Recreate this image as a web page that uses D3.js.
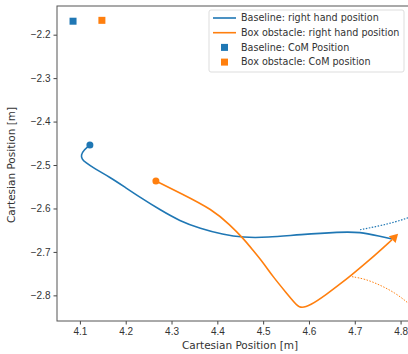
<!DOCTYPE html>
<html>
<head>
<meta charset="utf-8">
<script src="https://cdn.jsdelivr.net/npm/d3@7"></script>
<style>
  body { margin: 0; background: #fff; }
  svg { display: block; font-family: "DejaVu Sans", sans-serif; }
  .tick text { font-size: 10px; fill: #333; }
</style>
</head>
<body>
<div id="chart"></div>
<script>
// right hand trajectories [x, y]
const baselineHand = [
  [4.1218, -2.454], [4.1087, -2.4655], [4.1022, -2.477], [4.1044, -2.486],
  [4.1109, -2.493], [4.1328, -2.509], [4.1655, -2.528], [4.1983, -2.551],
  [4.2310, -2.574], [4.2747, -2.603], [4.3183, -2.629], [4.3620, -2.646],
  [4.4122, -2.660], [4.4559, -2.667], [4.5083, -2.667], [4.5803, -2.660],
  [4.6677, -2.654], [4.7114, -2.654], [4.7550, -2.664], [4.7812, -2.670]
]
const boxHand = [
  [4.2659, -2.537], [4.3183, -2.564], [4.3904, -2.603], [4.4275, -2.638],
  [4.4559, -2.668], [4.4777, -2.696], [4.4996, -2.724], [4.5214, -2.757],
  [4.5520, -2.796], [4.5694, -2.818], [4.5803, -2.830], [4.6022, -2.824],
  [4.6393, -2.797], [4.6677, -2.774], [4.6895, -2.756], [4.7332, -2.718],
  [4.7812, -2.672]
]
// dotted continuations
const baselineDotted = [[4.7114, -2.649], [4.7550, -2.640], [4.7878, -2.631], [4.8162, -2.622], [4.842, -2.610]]
const boxDotted = [[4.6939, -2.757], [4.722, -2.762], [4.7550, -2.776], [4.7878, -2.794], [4.8162, -2.817], [4.838, -2.838]]

const baselineCoM = [4.085, -2.169]
const boxCoM = [4.148, -2.167]
const boxEnd = [4.786, -2.667]

const xTicks = [4.1, 4.2, 4.3, 4.4, 4.5, 4.6, 4.7, 4.8]
const yTicks = [-2.2, -2.3, -2.4, -2.5, -2.6, -2.7, -2.8]

const legendItems = [
  { label: 'Baseline: right hand position', color: '#1f77b4', type: 'line' },
  { label: 'Box obstacle: right hand position', color: '#ff7f0e', type: 'line' },
  { label: 'Baseline: CoM Position', color: '#1f77b4', type: 'square' },
  { label: 'Box obstacle: CoM position', color: '#ff7f0e', type: 'square' }
]

const width = 408, height = 354
const margin = { left: 57, top: 6, right: -22, bottom: 33 }

const svg = d3.select('#chart').append('svg')
  .attr('width', width)
  .attr('height', height)

const x = d3.scaleLinear()
  .domain([4.05, 4.1 + (width - margin.right - 80) / 458])
  .range([margin.left, width - margin.right])
const y = d3.scaleLinear()
  .domain([-2.859, -2.134])
  .range([height - margin.bottom, margin.top])

// axes
svg.append('g')
  .attr('transform', 'translate(0,' + (height - margin.bottom) + ')')
  .call(d3.axisBottom(x).tickValues(xTicks).tickSize(3.5).tickPadding(3).tickFormat(d3.format('.1f')))
  .call(g => g.select('.domain').remove())
  .call(g => g.selectAll('.tick line').attr('stroke', '#444'))

svg.append('g')
  .attr('transform', 'translate(' + margin.left + ',0)')
  .call(d3.axisLeft(y).tickValues(yTicks).tickSize(3.5).tickPadding(3).tickFormat(d => d3.format('.1f')(d).replace('-', '\u2212')))
  .call(g => g.select('.domain').remove())
  .call(g => g.selectAll('.tick line').attr('stroke', '#444'))

// frame
svg.append('rect')
  .attr('x', margin.left)
  .attr('y', margin.top)
  .attr('width', x.range()[1] - margin.left)
  .attr('height', y.range()[0] - margin.top)
  .attr('fill', 'none')
  .attr('stroke', '#555')
  .attr('stroke-width', 1)

const line = d3.line()
  .x(d => x(d[0]))
  .y(d => y(d[1]))
  .curve(d3.curveBasis)

svg.append('path').datum(baselineDotted)
  .attr('d', line).attr('fill', 'none')
  .attr('stroke', '#1f77b4').attr('stroke-width', 1.2).attr('stroke-dasharray', '1.5,1.5')
svg.append('path').datum(boxDotted)
  .attr('d', line).attr('fill', 'none')
  .attr('stroke', '#ff7f0e').attr('stroke-width', 1).attr('stroke-dasharray', '1.5,1.5')

svg.append('path').datum(baselineHand)
  .attr('d', line).attr('fill', 'none')
  .attr('stroke', '#1f77b4').attr('stroke-width', 1.6)
svg.append('path').datum(boxHand)
  .attr('d', line).attr('fill', 'none')
  .attr('stroke', '#ff7f0e').attr('stroke-width', 1.6)

// start markers
svg.append('circle').attr('cx', x(baselineHand[0][0])).attr('cy', y(baselineHand[0][1])).attr('r', 3.5).attr('fill', '#1f77b4')
svg.append('circle').attr('cx', x(boxHand[0][0])).attr('cy', y(boxHand[0][1])).attr('r', 3.5).attr('fill', '#ff7f0e')

// end arrow head
const ex = x(boxEnd[0]), ey = y(boxEnd[1])
svg.append('path')
  .attr('d', d3.symbol(d3.symbolTriangle, 40)())
  .attr('transform', 'translate(' + ex + ',' + ey + ') rotate(45)')
  .attr('fill', '#ff7f0e')

// CoM squares
svg.append('rect').attr('x', x(baselineCoM[0]) - 3.5).attr('y', y(baselineCoM[1]) - 3.5)
  .attr('width', 7).attr('height', 7).attr('fill', '#1f77b4')
svg.append('rect').attr('x', x(boxCoM[0]) - 3.5).attr('y', y(boxCoM[1]) - 3.5)
  .attr('width', 7).attr('height', 7).attr('fill', '#ff7f0e')

// axis labels
svg.append('text')
  .attr('x', 240).attr('y', 349)
  .attr('text-anchor', 'middle')
  .style('font-size', '10.5px').attr('fill', '#333')
  .text('Cartesian Position [m]')
svg.append('text')
  .attr('transform', 'translate(15,' + 165 + ') rotate(-90)')
  .attr('text-anchor', 'middle')
  .style('font-size', '10.5px').attr('fill', '#333')
  .text('Cartesian Position [m]')

// legend
const lg = svg.append('g').attr('transform', 'translate(209,10)')
lg.append('rect')
  .attr('width', 195).attr('height', 62).attr('rx', 2)
  .attr('fill', '#fff').attr('fill-opacity', 0.85)
  .attr('stroke', '#ddd')
legendItems.forEach((d, i) => {
  const row = lg.append('g').attr('transform', 'translate(0,' + (8 + i * 14.7) + ')')
  if (d.type === 'line') {
    row.append('line').attr('x1', 4).attr('x2', 27).attr('stroke', d.color).attr('stroke-width', 1.6)
  } else {
    row.append('rect').attr('x', 12).attr('y', -3.5).attr('width', 7).attr('height', 7).attr('fill', d.color)
  }
  row.append('text').attr('x', 32).attr('dy', '0.35em')
    .style('font-size', '9.6px').attr('fill', '#333')
    .text(d.label)
})
</script>
</body>
</html>
